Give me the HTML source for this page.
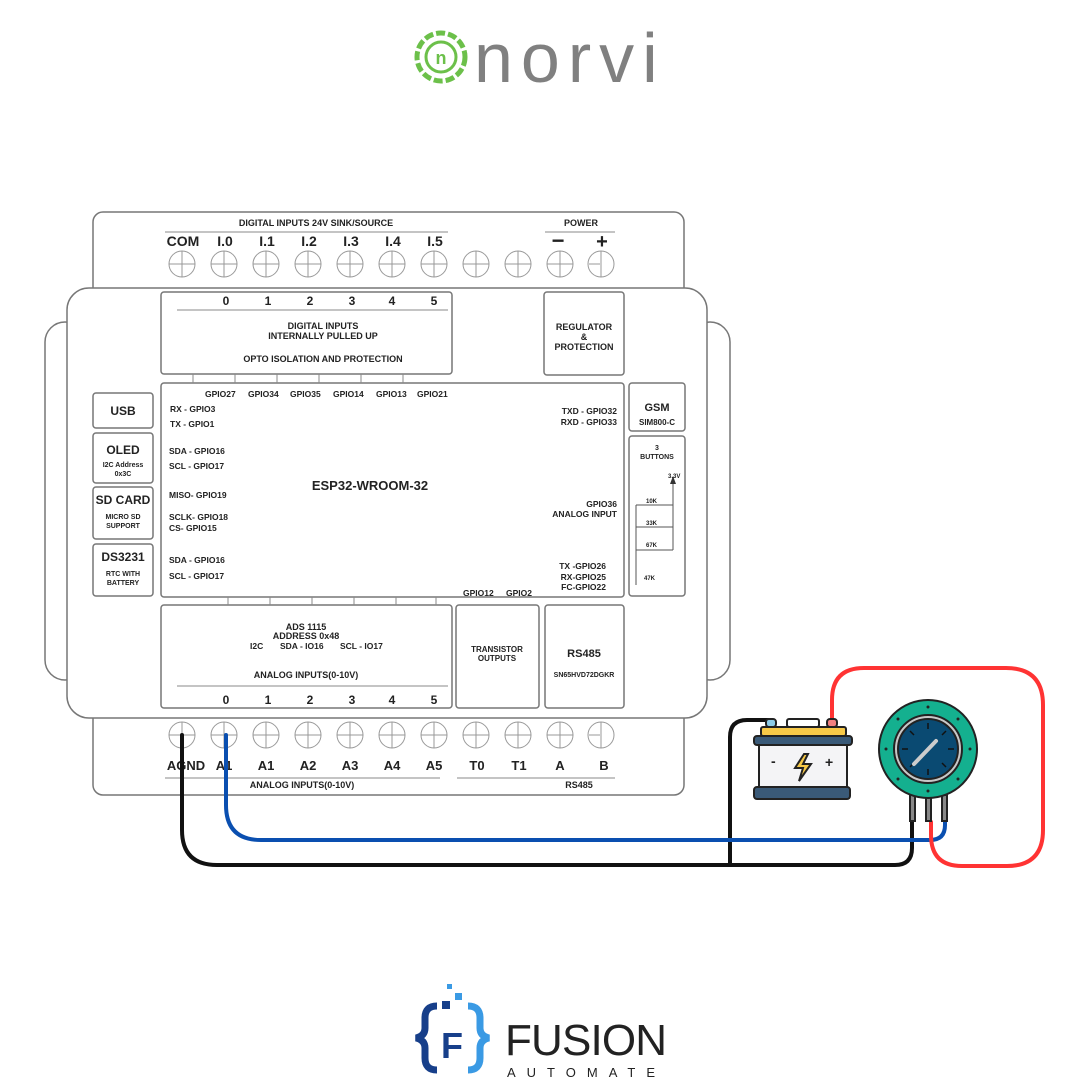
<!DOCTYPE html><html><head><style>body{margin:0;background:#fff}svg{display:block}text{font-family:"Liberation Sans",sans-serif;font-weight:bold;fill:#222}</style></head><body>
<svg width="1080" height="1080" viewBox="0 0 1080 1080" xmlns="http://www.w3.org/2000/svg">
<circle cx="441" cy="57" r="24" fill="none" stroke="#6cc04a" stroke-width="5" stroke-dasharray="9 3"/>
<circle cx="441" cy="57" r="15" fill="none" stroke="#6cc04a" stroke-width="3"/>
<text x="441" y="64" font-size="18" text-anchor="middle" style="fill:#6cc04a">n</text>
<text x="474" y="82" font-size="70" style="font-weight:normal;fill:#808080" letter-spacing="8">norvi</text>
<g stroke="#777" stroke-width="1.5" fill="#fff">
<rect x="45" y="322" width="40" height="358" rx="20"/>
<rect x="690" y="322" width="40" height="358" rx="20"/>
<rect x="93" y="212" width="591" height="100" rx="10"/>
<rect x="93" y="690" width="591" height="105" rx="10"/>
<rect x="67" y="288" width="640" height="430" rx="22"/>
<rect x="161" y="292" width="291" height="82" rx="3"/>
<rect x="544" y="292" width="80" height="83" rx="3"/>
<rect x="161" y="383" width="463" height="214" rx="3"/>
<rect x="93" y="393" width="60" height="35" rx="3"/>
<rect x="93" y="433" width="60" height="50" rx="3"/>
<rect x="93" y="487" width="60" height="52" rx="3"/>
<rect x="93" y="544" width="60" height="52" rx="3"/>
<rect x="629" y="383" width="56" height="48" rx="3"/>
<rect x="629" y="436" width="56" height="160" rx="3"/>
<rect x="161" y="605" width="291" height="103" rx="3"/>
<rect x="456" y="605" width="83" height="103" rx="3"/>
<rect x="545" y="605" width="79" height="103" rx="3"/>
</g>
<g stroke="#888" stroke-width="1" fill="none">
<line x1="165" y1="232" x2="448" y2="232"/><line x1="545" y1="232" x2="615" y2="232"/>
<line x1="177" y1="310" x2="448" y2="310"/><line x1="177" y1="686" x2="448" y2="686"/>
<line x1="165" y1="778" x2="440" y2="778"/><line x1="457" y1="778" x2="615" y2="778"/>
<path d="M193 374v9M235 374v9M277 374v9M319 374v9M361 374v9M403 374v9M228 597v8M270 597v8M312 597v8M354 597v8M396 597v8M436 597v8"/>
</g>
<g stroke="#999" stroke-width="1" fill="none" id="t">
<circle cx="182" cy="264" r="13"/><circle cx="224" cy="264" r="13"/><circle cx="266" cy="264" r="13"/><circle cx="308" cy="264" r="13"/><circle cx="350" cy="264" r="13"/><circle cx="392" cy="264" r="13"/><circle cx="434" cy="264" r="13"/><circle cx="476" cy="264" r="13"/><circle cx="518" cy="264" r="13"/><circle cx="560" cy="264" r="13"/><circle cx="601" cy="264" r="13"/>
<path d="M169 264h431M182 251v26M224 251v26M266 251v26M308 251v26M350 251v26M392 251v26M434 251v26M476 251v26M518 251v26M560 251v26M601 251v26" stroke-dasharray="26 16"/>
</g>
<use href="#t" y="471"/>
<g font-size="9" text-anchor="middle">
<text x="316" y="226">DIGITAL INPUTS 24V SINK/SOURCE</text><text x="581" y="226">POWER</text>
<text x="183" y="246" font-size="14">COM</text><text x="225" y="246" font-size="14">I.0</text><text x="267" y="246" font-size="14">I.1</text><text x="309" y="246" font-size="14">I.2</text><text x="351" y="246" font-size="14">I.3</text><text x="393" y="246" font-size="14">I.4</text><text x="435" y="246" font-size="14">I.5</text>
<text x="558" y="248" font-size="22">−</text><text x="602" y="248" font-size="20">+</text>
<g font-size="12"><text x="226" y="305">0</text><text x="268" y="305">1</text><text x="310" y="305">2</text><text x="352" y="305">3</text><text x="392" y="305">4</text><text x="434" y="305">5</text>
<text x="226" y="704">0</text><text x="268" y="704">1</text><text x="310" y="704">2</text><text x="352" y="704">3</text><text x="392" y="704">4</text><text x="434" y="704">5</text></g>
<text x="323" y="329">DIGITAL INPUTS</text><text x="323" y="339">INTERNALLY PULLED UP</text><text x="323" y="362">OPTO ISOLATION AND PROTECTION</text>
<text x="584" y="330">REGULATOR</text><text x="584" y="340">&amp;</text><text x="584" y="350">PROTECTION</text>
<text x="370" y="490" font-size="13">ESP32-WROOM-32</text>
<text x="123" y="415" font-size="12">USB</text>
<text x="123" y="454" font-size="12">OLED</text><text x="123" y="467" font-size="7">I2C Address</text><text x="123" y="476" font-size="7">0x3C</text>
<text x="123" y="504" font-size="12">SD CARD</text><text x="123" y="519" font-size="7">MICRO SD</text><text x="123" y="528" font-size="7">SUPPORT</text>
<text x="123" y="561" font-size="12">DS3231</text><text x="123" y="576" font-size="7">RTC WITH</text><text x="123" y="585" font-size="7">BATTERY</text>
<text x="657" y="411" font-size="11">GSM</text><text x="657" y="425" font-size="8">SIM800-C</text>
<text x="657" y="450" font-size="7">3</text><text x="657" y="459" font-size="7">BUTTONS</text>
<text x="306" y="630">ADS 1115</text><text x="306" y="639">ADDRESS 0x48</text>
<text x="306" y="678">ANALOG INPUTS(0-10V)</text><text x="302" y="788">ANALOG INPUTS(0-10V)</text><text x="579" y="788">RS485</text>
<text x="497" y="652" font-size="8">TRANSISTOR</text><text x="497" y="661" font-size="8">OUTPUTS</text>
<text x="584" y="657" font-size="11">RS485</text><text x="584" y="677" font-size="7">SN65HVD72DGKR</text>
<g font-size="13"><text x="186" y="770">AGND</text><text x="224" y="770">A1</text><text x="266" y="770">A1</text><text x="308" y="770">A2</text><text x="350" y="770">A3</text><text x="392" y="770">A4</text><text x="434" y="770">A5</text><text x="477" y="770">T0</text><text x="519" y="770">T1</text><text x="560" y="770">A</text><text x="604" y="770">B</text></g>
</g>
<g font-size="8.5">
<text x="205" y="397">GPIO27</text><text x="248" y="397">GPIO34</text><text x="290" y="397">GPIO35</text><text x="333" y="397">GPIO14</text><text x="376" y="397">GPIO13</text><text x="417" y="397">GPIO21</text>
<text x="170" y="412">RX - GPIO3</text><text x="170" y="427">TX - GPIO1</text><text x="169" y="454">SDA - GPIO16</text><text x="169" y="469">SCL - GPIO17</text><text x="169" y="498">MISO- GPIO19</text><text x="169" y="520">SCLK- GPIO18</text><text x="169" y="531">CS- GPIO15</text><text x="169" y="563">SDA - GPIO16</text><text x="169" y="579">SCL - GPIO17</text>
<text x="617" y="414" text-anchor="end">TXD - GPIO32</text><text x="617" y="425" text-anchor="end">RXD - GPIO33</text>
<text x="617" y="507" text-anchor="end">GPIO36</text><text x="617" y="517" text-anchor="end">ANALOG INPUT</text>
<text x="606" y="569" text-anchor="end">TX -GPIO26</text><text x="606" y="580" text-anchor="end">RX-GPIO25</text><text x="606" y="590" text-anchor="end">FC-GPIO22</text>
<text x="463" y="596">GPIO12</text><text x="506" y="596">GPIO2</text>
<text x="250" y="649">I2C</text><text x="280" y="649">SDA - IO16</text><text x="340" y="649">SCL - IO17</text>
</g>
<path d="M636 505V585M636 505h37M636 527h37M636 550h37M673 480V550" stroke="#555" fill="none" stroke-width="1"/>
<path d="M673 476l-3 8h6z" fill="#333"/>
<g font-size="6"><text x="646" y="503">10K</text><text x="646" y="525">33K</text><text x="646" y="547">67K</text><text x="644" y="580">47K</text><text x="668" y="478">3.3V</text></g>
<g fill="none" stroke-width="4" stroke-linecap="round">
<path d="M182 735V830Q182 865 217 865H895Q912 865 912 848V820" stroke="#111"/>
<path d="M730 865V737Q730 720 747 720H772" stroke="#111"/>
<path d="M226 735V805Q226 840 261 840H930Q945 840 945 825V818" stroke="#0a4fb0"/>
<path d="M832 722V700Q832 668 864 668H1006Q1043 668 1043 705V830Q1043 866 1007 866H962Q931 866 931 835V822" stroke="#f33"/>
</g>
<g stroke="#222" stroke-width="2">
<rect x="766" y="719" width="10" height="8" rx="3" fill="#8ccbe8"/><rect x="827" y="719" width="10" height="8" rx="3" fill="#f08080"/>
<rect x="787" y="719" width="32" height="8" rx="2" fill="#fff"/>
<rect x="761" y="727" width="85" height="9" rx="2" fill="#f7c948"/>
<rect x="754" y="736" width="98" height="9" rx="3" fill="#3a5a78"/>
<rect x="759" y="745" width="88" height="42" fill="#f4f4f6"/>
<rect x="754" y="787" width="96" height="12" rx="3" fill="#3a5a78"/>
<path d="M804 754l-9 14h8l-4 13 12-17h-8l5-10z" fill="#f7c948"/>
</g>
<text x="771" y="766" font-size="14">-</text><text x="825" y="767" font-size="14">+</text>
<g stroke="#222" stroke-width="2">
<rect x="910" y="795" width="5" height="26" fill="#888"/><rect x="926" y="795" width="5" height="26" fill="#888"/><rect x="942" y="795" width="5" height="26" fill="#888"/>
<circle cx="928" cy="749" r="49" fill="#14b08f"/>
<circle cx="928" cy="749" r="34" fill="#c8c8c8"/>
<circle cx="928" cy="749" r="30" fill="#0a4a72"/>
<path d="M928 723v6M928 769v6M902 749h6M948 749h6M910 731l4 4M946 731l-4 4M910 767l4-4M946 767l-4-4" stroke="#111" stroke-width="1.5"/>
<line x1="914" y1="764" x2="936" y2="741" stroke="#ccc" stroke-width="4" stroke-linecap="round"/>
</g>
<g fill="#222"><circle cx="928" cy="707" r="1.5"/><circle cx="928" cy="791" r="1.5"/><circle cx="886" cy="749" r="1.5"/><circle cx="970" cy="749" r="1.5"/><circle cx="898" cy="719" r="1.5"/><circle cx="958" cy="719" r="1.5"/><circle cx="898" cy="779" r="1.5"/><circle cx="958" cy="779" r="1.5"/></g>
<g fill="none" stroke-width="7">
<path d="M437 1006q-12 0-12 12v10q0 8-9 10q9 2 9 10v10q0 12 12 12" stroke="#173f8a"/>
<path d="M468 1006q12 0 12 12v10q0 8 9 10q-9 2-9 10v10q0 12-12 12" stroke="#3a9ae4"/>
</g>
<rect x="447" y="984" width="5" height="5" fill="#3a9ae4"/><rect x="455" y="993" width="7" height="7" fill="#3a9ae4"/><rect x="442" y="1001" width="8" height="8" fill="#173f8a"/>
<text x="441" y="1058" font-size="36" style="fill:#173f8a">F</text>
<text x="505" y="1055" font-size="44" style="fill:#222;font-weight:normal" textLength="162">FUSION</text>
<text x="507" y="1077" font-size="13" style="fill:#222;font-weight:normal" letter-spacing="11">AUTOMATE</text>
</svg></body></html>
